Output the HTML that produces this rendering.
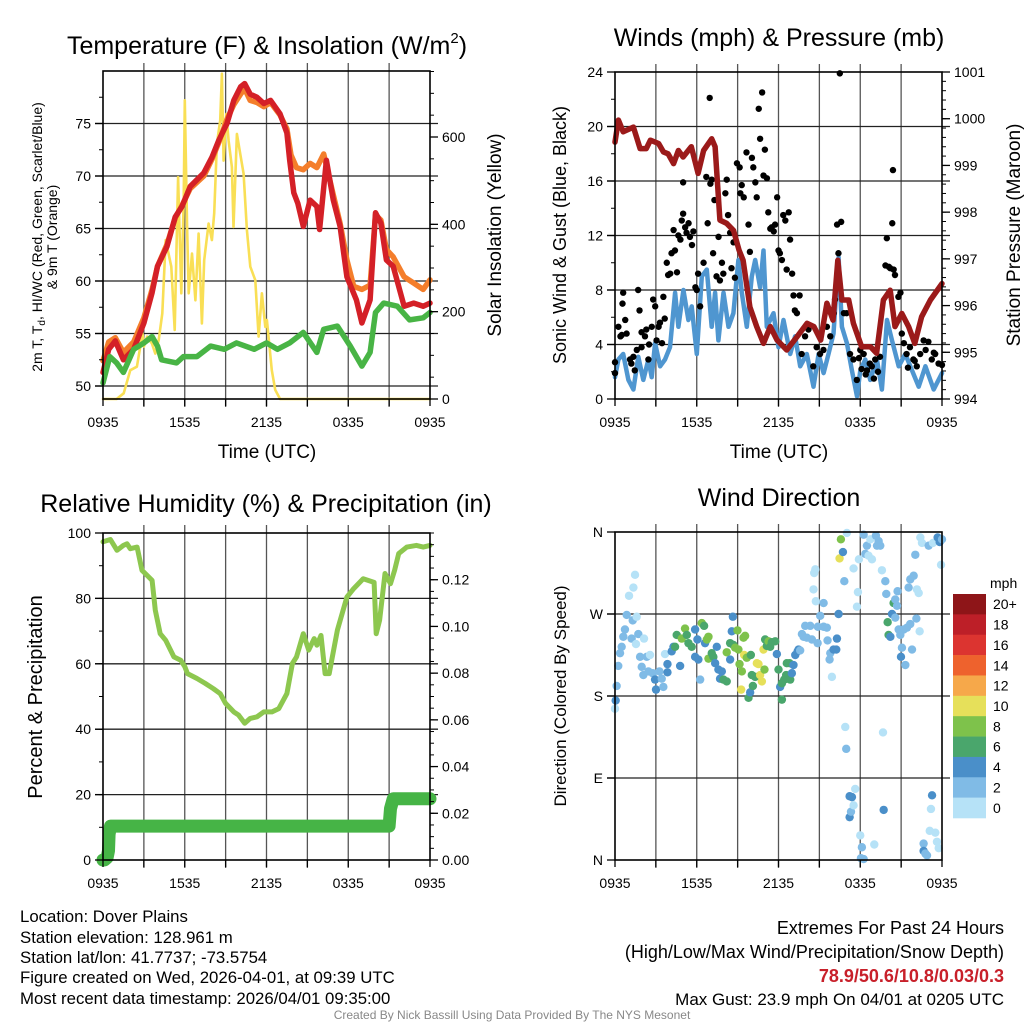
<!DOCTYPE html>
<html><head><meta charset="utf-8"><title>Dover Plains Meteogram</title>
<style>
html,body{margin:0;padding:0;background:#fff;}
svg{display:block;font-family:"Liberation Sans",Arial,sans-serif;}
</style></head>
<body>
<svg id="chart" width="1024" height="1024" viewBox="0 0 1024 1024" xmlns="http://www.w3.org/2000/svg">
<rect width="1024" height="1024" fill="#fff"/>
<g id="layer"></g>
<!-- titles -->
<text x="267" y="54" font-size="25" text-anchor="middle">Temperature (F) &amp; Insolation (W/m<tspan font-size="15" dy="-11">2</tspan><tspan dy="11">)</tspan></text>
<text x="779" y="46" font-size="25" text-anchor="middle">Winds (mph) &amp; Pressure (mb)</text>
<text x="266" y="512" font-size="25" text-anchor="middle">Relative Humidity (%) &amp; Precipitation (in)</text>
<text x="779" y="506" font-size="25" text-anchor="middle">Wind Direction</text>
<!-- axis titles -->
<text transform="translate(42,237) rotate(-90)" font-size="14" text-anchor="middle">2m T, T<tspan font-size="10" dy="3">d</tspan><tspan dy="-3">, HI/WC (Red, Green, Scarlet/Blue)</tspan></text>
<text transform="translate(57,237) rotate(-90)" font-size="14" text-anchor="middle">&amp; 9m T (Orange)</text>
<text transform="translate(501,235) rotate(-90)" font-size="19" text-anchor="middle">Solar Insolation (Yellow)</text>
<text x="267" y="458" font-size="19" text-anchor="middle">Time (UTC)</text>
<text transform="translate(566,235) rotate(-90)" font-size="18" text-anchor="middle">Sonic Wind &amp; Gust (Blue, Black)</text>
<text transform="translate(1020,235) rotate(-90)" font-size="19" text-anchor="middle">Station Pressure (Maroon)</text>
<text x="779" y="458" font-size="19" text-anchor="middle">Time (UTC)</text>
<text transform="translate(42,697) rotate(-90)" font-size="20" text-anchor="middle">Percent &amp; Precipitation</text>
<text transform="translate(566,696) rotate(-90)" font-size="17" text-anchor="middle">Direction (Colored By Speed)</text>
<text x="990" y="588" font-size="14">mph</text>
<!-- footer -->
<g font-size="16.8">
<text x="20" y="922">Location: Dover Plains</text>
<text x="20" y="943">Station elevation: 128.961 m</text>
<text x="20" y="963">Station lat/lon: 41.7737; -73.5754</text>
<text x="20" y="983">Figure created on Wed, 2026-04-01, at 09:39 UTC</text>
<text x="20" y="1004">Most recent data timestamp: 2026/04/01 09:35:00</text>
</g>
<g font-size="18" text-anchor="end">
<text x="1004" y="934">Extremes For Past 24 Hours</text>
<text x="1004" y="958">(High/Low/Max Wind/Precipitation/Snow Depth)</text>
<text x="1004" y="982" fill="#c8202a" font-weight="bold">78.9/50.6/10.8/0.03/0.3</text>
<text x="1004" y="1005" font-size="17">Max Gust: 23.9 mph On 04/01 at 0205 UTC</text>
</g>
<text x="512" y="1019" font-size="12" fill="#888" text-anchor="middle">Created By Nick Bassill Using Data Provided By The NYS Mesonet</text>
</svg>
<script>
// ---------- data ----------
const xTickLabels = ["0935","1535","2135","0335","0935"];
const tempTicks = [50,55,60,65,70,75];
const solarTicks = [0,200,400,600];
const windTicks = [0,4,8,12,16,20,24];
const presTicks = [994,995,996,997,998,999,1000,1001];
const rhTicks = [0,20,40,60,80,100];
const precipTicks = [0,0.02,0.04,0.06,0.08,0.10,0.12];
const precipTickLabels = ["0.00","0.02","0.04","0.06","0.08","0.10","0.12"];
const dirTicks = [0,90,180,270,360];
const dirTickLabels = ["N","E","S","W","N"];
const speedBinLabels = ["20+","18","16","14","12","10","8","6","4","2","0"];

const tRedHours = [0,0.42,0.9,1.5,2.25,3.0,3.6,4.0,4.7,5.3,5.8,6.4,7.4,8.0,8.5,9.1,9.6,10.1,10.4,10.8,11.3,11.8,12.3,13.0,13.5,13.7,14.0,14.3,14.7,15.2,15.7,15.9,16.4,16.9,17.4,17.9,18.6,19.0,19.6,20.0,20.4,20.8,21.3,22.1,22.8,23.5,24];
const tRedVals = [51.3,53.5,54.3,52.5,53.5,56.0,58.9,61.4,63.3,66.1,67.1,69.0,70.3,71.8,73.4,75.0,77.2,78.5,78.8,77.8,77.5,76.9,77.2,75.9,74.1,71.5,68.4,67.4,65.2,67.7,67.1,64.9,71.5,67.7,65.2,60.4,58.2,56.0,58.2,66.5,65.5,62.0,61.4,57.6,57.9,57.6,57.9];
const tOrgHours = [0,0.42,0.9,1.5,2.25,3.0,3.6,4.0,4.7,5.3,5.8,6.4,7.4,8.0,8.5,9.1,9.6,10.1,10.4,10.8,11.3,11.8,12.3,13.0,13.5,13.8,14.2,14.7,15.2,15.7,16.2,16.9,17.4,17.9,18.4,19.0,19.6,20.0,20.4,20.8,21.3,22.1,22.8,23.5,24];
const tOrgVals = [52.4,54.2,54.6,53.2,54.2,56.5,59.2,61.4,63.5,66.0,67.2,68.8,70.0,71.6,73.2,75.4,76.8,77.8,78.3,77.2,77.0,76.6,77.0,75.8,74.5,72.0,70.8,70.6,71.2,70.8,72.1,68.2,65.5,62.0,59.5,59.2,59.6,66.3,65.8,63.0,62.3,60.4,59.8,59.2,60.1];
const tdHours = [0,0.5,1.0,1.5,2.25,3.0,3.6,4.0,4.3,5.4,5.9,6.9,7.9,8.9,9.8,11.1,12.0,12.8,13.7,14.7,15.7,16.2,17.2,18.15,19.0,19.6,20.0,20.6,21.6,22.5,23.5,24];
const tdVals = [50.3,52.8,52.2,51.3,53.5,54.1,54.7,53.8,52.5,52.2,52.8,52.8,53.8,53.5,54.1,53.5,54.1,53.5,54.1,55.1,53.2,55.4,55.7,53.8,51.9,53.2,57.0,57.9,57.6,56.3,56.5,57.0];
const solarHours = [0,1.0,1.52,2.0,2.49,2.9,3.0,3.24,3.59,3.84,4.09,4.35,4.6,5.01,5.26,5.51,5.75,5.92,6.0,6.17,6.29,6.53,6.78,7.02,7.26,7.43,7.75,7.99,8.16,8.36,8.6,8.73,8.85,9.05,9.22,9.46,9.58,9.83,10.07,10.32,10.56,10.81,11.18,11.42,11.66,11.91,12.03,12.22,12.39,12.64,13.0,13.26,13.62,24];
const solarVals = [0,0,13,66,74,150,120,143,127,104,135,196,364,303,158,508,242,455,684,394,242,333,226,379,173,318,402,364,425,585,638,745,546,653,592,531,394,607,562,516,387,303,272,143,242,165,181,120,66,21,0,0,0,0];

const presHours = [0,0.25,0.6,1.35,1.84,2.3,2.6,3.2,3.55,3.9,4.3,4.65,5.0,5.6,6.1,6.5,7.1,7.35,7.7,8.2,8.7,9.1,9.4,9.9,10.4,10.9,11.4,11.9,12.6,13.35,14.1,14.6,15.1,15.55,16.0,16.35,16.65,17.15,17.5,18.1,18.75,19.2,19.7,20.2,20.55,21.05,21.55,22.0,22.5,23.15,24];
const presVals = [999.50,999.97,999.72,999.82,999.36,999.36,999.54,999.47,999.29,999.25,999.04,999.32,999.18,999.40,998.83,999.32,999.57,999.40,997.83,997.76,997.61,997.19,996.97,995.97,995.55,995.19,995.55,995.26,995.05,995.33,995.62,995.55,995.26,996.05,995.69,996.97,996.12,996.12,995.62,995.12,995.12,994.98,996.12,996.33,995.55,995.83,995.55,995.19,995.76,996.12,996.47];
const windHours = [0,0.25,0.6,0.98,1.35,1.71,2.08,2.45,2.69,2.94,3.31,3.67,4.04,4.41,4.65,5.02,5.39,5.63,6.0,6.37,6.74,7.1,7.35,7.59,7.96,8.33,8.69,9.06,9.31,9.67,10.04,10.29,10.65,10.9,11.14,11.63,12.0,12.37,12.86,13.22,13.59,14.08,14.57,14.94,15.31,15.67,16.04,16.41,16.65,17.02,17.39,17.76,18.0,18.37,18.73,19.22,19.59,19.96,20.33,20.82,21.31,21.8,22.29,22.78,23.39,24];
const windVals = [1.6,2.9,3.3,1.4,0.7,3.1,1.4,2.9,1.6,4.1,2.4,2.9,3.8,7.8,5.3,8.0,5.8,6.8,3.3,9.0,9.5,5.3,7.8,4.3,7.8,5.3,6.3,10.2,7.8,5.3,9.0,10.2,8.2,10.9,5.3,6.3,3.8,5.8,3.3,4.6,2.4,3.3,0.9,3.3,1.9,3.3,4.8,10.4,5.3,4.1,2.1,0.2,2.1,2.9,1.4,2.9,0.7,5.8,4.3,2.4,3.3,2.1,0.9,2.4,0.7,1.9];
const gustHours = [0,0,0.25,0.4,0.5,0.55,0.6,0.75,0.85,1.1,1.2,1.35,1.45,1.6,1.7,1.8,1.95,1.95,2.2,2.3,2.45,2.5,2.7,2.8,2.95,3.05,3.2,3.3,3.45,3.55,3.65,3.8,3.9,4.05,4.15,4.3,4.4,4.55,4.65,4.8,4.9,5.0,5.0,5.15,5.25,5.4,5.5,5.65,5.75,5.9,6.0,6.1,6.25,6.5,6.7,6.8,6.95,7.0,7.1,7.2,7.3,7.45,7.6,7.7,7.85,7.95,8.1,8.2,8.3,8.45,8.55,8.7,8.8,8.95,9.15,9.2,9.3,9.45,9.65,9.8,9.9,10.05,10.15,10.3,10.4,10.55,10.65,10.8,10.9,11.0,11.15,11.25,11.4,11.5,11.65,11.75,11.9,12.0,12.1,12.25,12.35,12.5,12.6,12.75,12.85,13.0,13.1,13.2,13.35,13.55,13.7,13.95,14.2,14.55,14.8,15.05,15.3,15.55,15.8,16.05,16.15,16.3,16.4,16.5,16.6,16.8,17.0,17.25,17.5,17.75,18.0,18.25,18.5,18.85,19.1,19.45,19.85,19.95,20.1,20.2,20.35,20.4,20.45,20.55,20.8,20.95,21.05,21.2,21.4,21.65,21.9,22.15,22.4,22.65,23.0,23.25,23.5,23.75,24.0,18.1,18.4,18.7,19.0,19.3,17.9,21.5,22.0,22.8,23.4];
const gustVals = [1.9,2.7,5.3,4.6,4.7,7.0,7.8,5.8,4.8,2.9,2.6,3.1,2.1,3.6,8.0,6.5,3.8,4.9,4.6,5.1,2.9,4.0,5.3,7.3,6.8,4.3,5.3,5.6,4.1,7.5,5.9,10.0,9.1,9.2,10.7,12.4,10.9,9.3,12.0,11.7,13.1,15.9,13.6,12.6,12.2,12.9,11.9,11.3,12.3,8.2,8.0,9.2,6.8,10.0,16.3,12.9,22.1,15.8,16.1,10.7,14.6,9.0,11.9,8.7,10.0,9.2,15.1,16.1,13.5,12.2,9.6,11.5,8.9,17.3,17.0,15.1,15.7,14.8,18.1,12.8,10.8,17.7,17.0,15.9,14.8,21.3,19.1,22.5,16.4,18.3,16.2,13.7,12.5,12.6,12.3,12.8,14.8,10.9,10.7,10.2,13.5,13.1,9.5,13.7,11.7,9.2,7.6,6.5,6.3,7.6,3.3,4.6,5.1,2.4,3.8,3.3,3.6,5.3,4.6,6.3,7.3,12.8,10.7,23.9,13.0,6.3,6.3,3.3,2.9,1.4,3.6,3.3,2.1,2.4,2.9,3.1,9.8,11.8,9.7,9.6,12.9,16.8,9.5,9.1,7.5,7.8,4.8,4.1,3.3,3.8,2.9,2.4,3.3,4.3,4.2,2.9,3.3,2.6,2.5,2.2,1.8,2.6,1.5,2.0,3.0,2.3,2.8,3.6,3.4];

const rhHours = [0,0.54,1.03,1.5,1.76,2.0,2.5,2.86,3.1,3.6,3.84,4.2,4.6,5.2,5.7,6.0,6.2,6.9,7.5,8.1,8.6,9.0,9.6,9.95,10.4,10.8,11.3,11.8,12.4,12.9,13.5,13.9,14.2,14.7,15.1,15.5,15.7,16.0,16.3,16.6,17.2,17.9,18.4,19.1,19.9,20.05,20.3,20.7,21.1,21.4,21.7,22.3,23.0,23.5,24];
const rhVals = [97.3,98.0,94.7,96.2,96.7,95.2,95.7,88.6,87.6,85.5,76.4,69.2,67.2,62.1,61.1,59.1,57.0,55.5,54.0,52.4,50.9,47.9,45.3,44.3,41.8,43.3,43.8,45.3,45.3,46.3,50.9,60.1,62.1,69.2,64.2,67.7,65.7,68.7,57.0,57.0,70.3,80.4,83.0,86.0,84.9,69.2,73.3,87.6,84.5,88.6,93.7,95.7,96.2,95.7,96.2];
const precipHours = [0,0.1,0.3,0.4,0.45,0.55,21.0,21.1,21.3,24];
const precipVals = [0.0,0.0,0.001,0.004,0.011,0.0145,0.0145,0.022,0.0262,0.0262];

const dirHours = [0,0.05,0.12,0.24,0.37,0.49,0.61,0.73,0.86,1.03,1.35,1.47,1.30,1.22,1.59,1.71,1.54,1.84,1.96,2.08,2.13,2.33,2.45,2.57,2.77,2.94,3.01,3.26,3.43,3.55,3.67,3.85,3.85,4.16,4.29,4.53,4.78,4.41,4.90,5.14,5.27,5.39,5.63,5.88,5.88,6.05,6.12,6.25,6.37,6.54,6.61,6.74,6.86,6.86,7.10,7.22,7.35,7.47,7.59,7.71,7.84,7.96,8.20,8.20,8.45,8.45,8.57,8.65,8.69,8.82,8.99,9.06,9.14,9.26,9.31,9.43,9.55,9.48,9.67,9.80,9.92,9.97,10.04,10.12,10.29,10.41,10.53,10.65,10.78,10.90,10.97,11.02,11.14,11.27,11.39,11.51,11.76,11.88,12.00,12.12,12.25,12.25,12.42,12.56,12.61,12.81,12.86,12.98,13.10,13.23,13.40,13.47,13.59,13.72,13.84,13.96,14.08,14.33,14.45,14.57,14.62,14.70,14.74,14.87,14.89,15.06,15.31,15.31,15.55,15.60,15.75,15.80,15.92,16.04,16.24,16.29,16.41,16.48,16.58,16.73,16.83,17.02,16.90,16.97,17.22,17.39,17.22,17.32,17.51,17.63,17.51,17.83,17.76,17.90,18.00,18.12,18.05,18.25,18.25,18.37,18.49,18.61,18.74,18.86,19.03,19.15,19.23,19.35,19.47,19.59,19.67,19.72,19.84,19.91,20.01,20.08,20.21,20.33,20.45,20.57,20.57,20.70,20.74,20.82,20.94,20.99,21.06,21.19,21.31,21.43,21.55,21.67,21.80,21.67,21.92,22.04,22.12,22.16,22.29,22.36,22.41,22.53,22.65,22.65,22.78,22.90,23.02,23.10,23.19,23.27,23.34,23.51,23.63,23.68,23.76,23.83,23.93,24.0];
const dirVals = [166,175,191,213,227,234,245,253,269,290,299,313,263,243,267,248,237,223,212,203,243,223,207,225,205,198,187,207,199,190,226,206,215,229,234,247,213,234,243,254,247,238,234,223,253,242,220,198,260,257,238,242,245,221,227,223,216,234,209,199,207,198,196,228,220,238,251,267,236,233,252,231,215,187,207,244,246,225,222,178,184,225,203,191,201,216,215,203,196,231,209,242,235,240,234,239,240,226,209,190,176,194,198,203,216,216,198,205,214,225,229,231,230,248,245,257,244,257,242,297,315,319,284,238,256,268,282,256,255,241,220,227,201,231,231,243,270,331,352,338,306,359,146,122,70,69,47,53,60,78,320,294,278,330,27,14,2,1,357,336,345,334,352,330,17,356,345,350,345,318,140,55,306,292,261,247,245,270,282,286,266,279,295,253,247,223,233,253,214,255,299,308,231,259,312,335,265,297,293,251,354,348,18,10,7,5,345,32,56,71,348,30,20,354,13,349,324,352];
const dirSpeeds = [0,4,2,2,2,2,2,2,2,0,0,0,2,2,0,2,0,2,2,2,0,2,2,0,2,4,4,2,2,2,0,4,4,4,4,6,4,6,8,8,6,6,6,4,4,4,4,2,8,6,4,8,8,8,6,6,4,4,4,4,4,6,6,8,4,6,4,4,6,8,8,8,8,10,8,8,8,10,8,6,4,6,6,6,6,10,10,10,10,10,8,6,6,8,6,6,6,4,6,4,6,6,6,6,6,6,6,4,4,4,4,4,2,2,2,2,2,2,2,0,0,0,0,2,2,2,2,2,2,2,2,2,0,4,4,4,4,10,8,4,2,0,0,2,4,4,4,2,0,0,0,0,0,0,0,2,2,2,2,2,2,0,0,0,0,2,2,2,2,0,0,4,2,2,6,6,4,4,6,2,2,2,2,2,2,4,2,2,2,2,2,2,2,2,2,2,2,0,0,0,0,0,2,4,2,2,2,0,0,4,0,0,0,4,0,4,0,2,0,0,0,0,0,0,0];
const binColors = ["#8e1518","#bd1f28","#dc3430","#ee622d","#f6a84a","#e6e05a","#7ec24b","#4aa66c","#4a8fc9","#80bbe6","#b6e2f7"];

// ---------- helpers ----------
const NS = "http://www.w3.org/2000/svg";
const layer = document.getElementById("layer");
function mk(tag, attrs, parent){
  const e = document.createElementNS(NS, tag);
  for (const k in attrs) e.setAttribute(k, attrs[k]);
  (parent||layer).appendChild(e);
  return e;
}
function lin(d0,d1,r0,r1){ return v => r0 + (v-d0)/(d1-d0)*(r1-r0); }

const P1 = {x0:103,x1:430,y0:71,y1:399};
const P2 = {x0:615,x1:942,y0:72,y1:399};
const P3 = {x0:103,x1:430,y0:533,y1:860};
const P4 = {x0:615,x1:942,y0:532,y1:860};

function xScale(P){ return lin(0,24,P.x0,P.x1); }

function drawGrid(P, yScale, ticks, name){
  const g = mk("g",{});
  
  
  const xs = xScale(P);
  for (let h=3; h<24; h+=3){
    const l = mk("line",{x1:xs(h),x2:xs(h),y1:P.y0-8,y2:P.y1+8,stroke:"#555","stroke-width":1.3},g);
    
    
  }
  ticks.forEach(v=>{
    const y = yScale(v);
    if (Math.abs(y-P.y1)<1 || Math.abs(y-P.y0)<1) return;
    const l = mk("line",{x1:P.x0-8,x2:P.x1+8,y1:y,y2:y,stroke:"#222","stroke-width":1.3},g);
    
    
  });
}
function drawFrame(P, name){
  const r = mk("rect",{x:P.x0,y:P.y0,width:P.x1-P.x0,height:P.y1-P.y0,fill:"none",stroke:"#000","stroke-width":1.6});
  
  
}
function drawXAxis(P, name){
  const xs = xScale(P);
  const g = mk("g",{});
  
  
  for (let h=0; h<=24; h+=3){
    mk("line",{x1:xs(h),x2:xs(h),y1:P.y1,y2:P.y1+7,stroke:"#000","stroke-width":1.3},g);
  }
  xTickLabels.forEach((lab,i)=>{
    const t = mk("text",{x:xs(i*6),y:P.y1+28,"font-size":14,"text-anchor":"middle"},g);
    t.textContent = lab;
    
    
  });
}
function drawYAxis(P, ys, ticks, labels, side, name, minorStep, dmin, dmax){
  const g = mk("g",{});
  
  
  const x = side==="left"?P.x0:P.x1, dir = side==="left"?-1:1;
  if (minorStep){
    for (let v=Math.ceil(dmin/minorStep)*minorStep; v<=dmax+1e-9; v+=minorStep){
      mk("line",{x1:x,x2:x+dir*4,y1:ys(v),y2:ys(v),stroke:"#000","stroke-width":1},g);
    }
  }
  ticks.forEach((v,i)=>{
    const y = ys(v);
    mk("line",{x1:x,x2:x+dir*8,y1:y,y2:y,stroke:"#000","stroke-width":1.3},g);
    const t = mk("text",{x:x+dir*12,y:y+5,"font-size":14,"text-anchor":side==="left"?"end":"start"},g);
    t.textContent = labels?labels[i]:String(v);
    
    
  });
}
function linePath(hours, vals, xs, ys){
  return hours.map((h,i)=>(i?"L":"M")+xs(h).toFixed(1)+","+ys(vals[i]).toFixed(1)).join("");
}
function drawLine(hours, vals, xs, ys, color, w, name){
  const p = mk("path",{d:linePath(hours,vals,xs,ys),fill:"none",stroke:color,"stroke-width":w,"stroke-linejoin":"round","stroke-linecap":"round"});
  
  
}

// ---------- panel 1 ----------
{
  const xs = xScale(P1);
  const yT = lin(50,75,386,123.5);
  const yS = lin(0,600,399,137);
  drawGrid(P1, yT, tempTicks, "temp");
  drawLine(solarHours, solarVals, xs, yS, "#f9df55", 2.6, "solar-insolation-line");
  drawLine(tOrgHours, tOrgVals, xs, yT, "#f47e2b", 5.5, "temp-9m-line");
  drawLine(tRedHours, tRedVals, xs, yT, "#d42027", 5.5, "temp-2m-line");
  drawLine(tdHours, tdVals, xs, yT, "#48b445", 5.5, "dewpoint-line");
  drawFrame(P1, "temp");
  drawXAxis(P1, "temp");
  drawYAxis(P1, yT, tempTicks, null, "left", "temp-y-axis", 2.5, 48.8, 79.9);
  drawYAxis(P1, yS, solarTicks, null, "right", "solar-y-axis", 50, 0, 750);
}
// ---------- panel 2 ----------
{
  const xs = xScale(P2);
  const yW = lin(0,24,399,72);
  const yP = lin(994,1001,399,72);
  drawGrid(P2, yW, windTicks, "wind");
  drawLine(windHours, windVals, xs, yW, "#4f96d0", 4.5, "sonic-wind-line");
  const g = mk("g",{});
  
  
  gustHours.forEach((h,i)=>{
    const c = mk("circle",{cx:xs(h),cy:yW(gustVals[i]),r:3.2,fill:"#000"},g);
    
    
  });
  drawLine(presHours, presVals, xs, yP, "#9b1a1a", 5.5, "pressure-line");
  drawFrame(P2, "wind");
  drawXAxis(P2, "wind");
  drawYAxis(P2, yW, windTicks, null, "left", "wind-y-axis", 2, 0, 24);
  drawYAxis(P2, yP, presTicks, null, "right", "pressure-y-axis", 0.2, 994, 1001);
}
// ---------- panel 3 ----------
{
  const xs = xScale(P3);
  const yR = lin(0,100,860,533);
  const yPr = lin(0,0.14,860,533);
  drawGrid(P3, yR, rhTicks, "rh");
  drawLine(rhHours, rhVals, xs, yR, "#8dc74f", 5, "rh-line");
  drawLine(precipHours, precipVals, xs, yPr, "#46b446", 13, "precip-line");
  drawFrame(P3, "rh");
  drawXAxis(P3, "rh");
  drawYAxis(P3, yR, rhTicks, null, "left", "rh-y-axis", 10, 0, 100);
  drawYAxis(P3, yPr, precipTicks, precipTickLabels, "right", "precip-y-axis", 0.005, 0, 0.14);
}
// ---------- panel 4 ----------
{
  const xs = xScale(P4);
  const yD = lin(0,360,860,532);
  drawGrid(P4, yD, dirTicks, "dir");
  const g = mk("g",{});
  
  
  dirHours.forEach((h,i)=>{
    const sp = dirSpeeds[i] || 0;
    const bin = Math.min(10, Math.floor(sp/2));
    const c = mk("circle",{cx:xs(h),cy:yD(dirVals[i]),r:4.2,fill:binColors[10-bin]},g);
    
    
  });
  drawFrame(P4, "dir");
  drawXAxis(P4, "dir");
  drawYAxis(P4, yD, dirTicks, dirTickLabels, "left", "dir-y-axis", 0, 0, 0);
  // colorbar
  const cb = mk("g",{});
  
  
  const bh = 224/11;
  speedBinLabels.forEach((lab,i)=>{
    const r = mk("rect",{x:953,y:594+i*bh,width:33,height:bh+0.3,fill:binColors[i]},cb);
    
    
    const t = mk("text",{x:993,y:594+i*bh+bh/2+5,"font-size":14},cb);
    t.textContent = lab;
    
    
  });
}
</script>
</body></html>
